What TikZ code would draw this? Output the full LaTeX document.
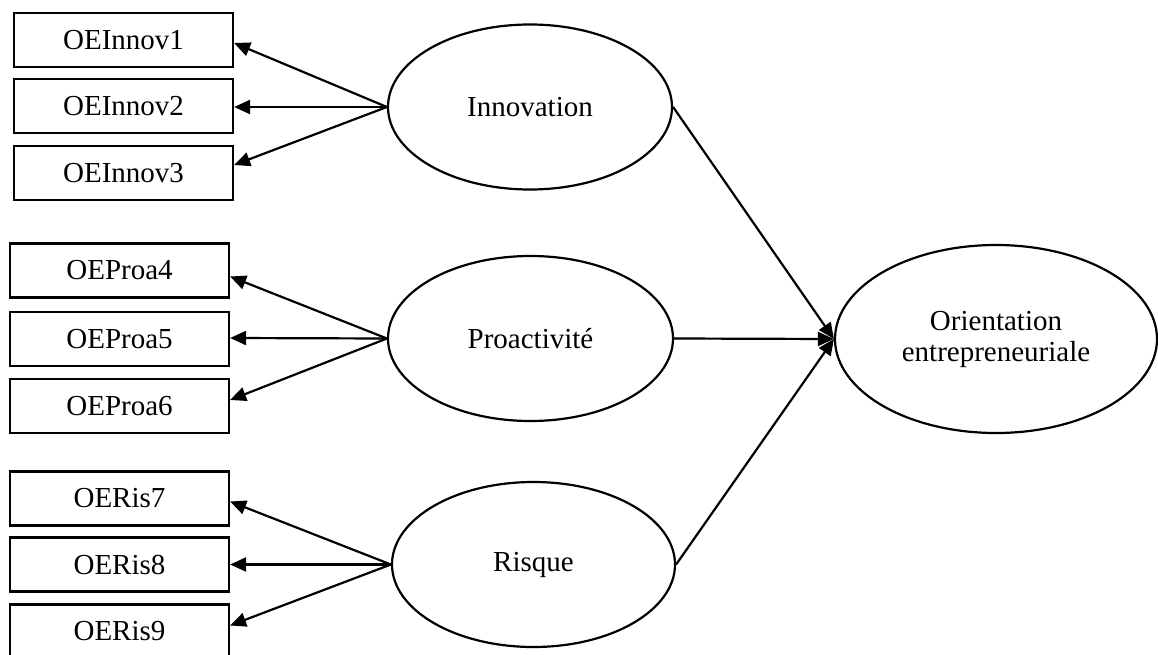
\documentclass[tikz,border=0pt]{standalone}
\usepackage{fontspec}
\setmainfont{Liberation Serif}
\usetikzlibrary{shapes.geometric,arrows.meta}
\begin{document}
\begin{tikzpicture}[x=1pt,y=-1pt,
  every node/.style={font=\fontsize{29}{31}\selectfont},
  indbox/.style={draw, line width=2.2pt, rectangle, minimum width=219pt, minimum height=54pt, inner sep=0pt},
  latent/.style={draw, line width=2.2pt, ellipse, inner sep=0pt, align=center},
  link/.style={line width=2.2pt, -{Triangle[length=16pt,width=14pt]}}]
\useasboundingbox (0,0) rectangle (1158,655);
\clip (0,0) rectangle (1158,655);
% indicator boxes
\node[indbox] (b1) at (123.5,40) {OEInnov1};
\node[indbox] (b2) at (123.5,106) {OEInnov2};
\node[indbox] (b3) at (123.5,173) {OEInnov3};
\node[indbox] (b4) at (119.5,270.5) {OEProa4};
\node[indbox] (b5) at (119.5,339) {OEProa5};
\node[indbox] (b6) at (119.5,406) {OEProa6};
\node[indbox] (b7) at (119.5,498.5) {OERis7};
\node[indbox] (b8) at (119.5,564.5) {OERis8};
\node[indbox] (b9) at (119.5,631.5) {OERis9};
% latent variables
\node[latent, minimum width=284pt, minimum height=165pt] (inn) at (530,107) {Innovation};
\node[latent, minimum width=285pt, minimum height=165pt] (pro) at (530.5,338.5) {Proactivité};
\node[latent, minimum width=283pt, minimum height=165pt] (ris) at (533.5,564.5) {Risque};
\node[latent, minimum width=322pt, minimum height=188pt] (oe) at (996,339) {Orientation\\entrepreneuriale};
% loadings
\draw[link] (inn.west) -- ([yshift=-3pt]b1.east);
\draw[link] (inn.west) -- ([yshift=-1pt]b2.east);
\draw[link] (inn.west) -- ([yshift=8pt]b3.east);
\draw[link] (pro.west) -- ([yshift=-6pt]b4.east);
\draw[link] (pro.west) -- ([yshift=1pt]b5.east);
\draw[link] (pro.west) -- ([yshift=6pt]b6.east);
\draw[link] (ris.west) -- ([yshift=-3pt]b7.east);
\draw[link] (ris.west) -- ([yshift=0pt]b8.east);
\draw[link] (ris.west) -- ([yshift=6pt]b9.east);
% structural paths
\draw[link] (inn.east) -- (oe.west);
\draw[link] (pro.east) -- (oe.west);
\draw[link] (ris.east) -- (oe.west);
\end{tikzpicture}
\end{document}
